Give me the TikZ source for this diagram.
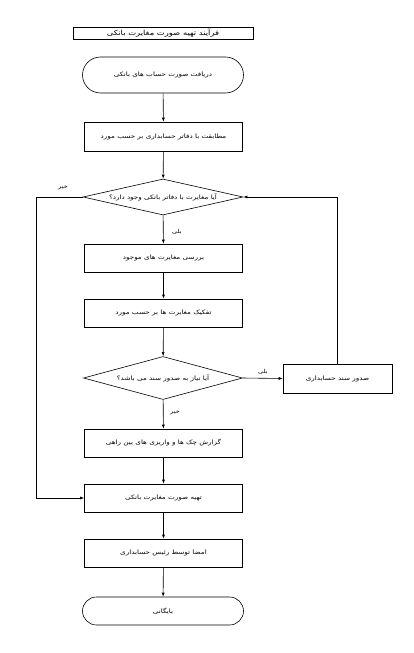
\documentclass[tikz,border=0pt]{standalone}
\usepackage{fontspec}
\newfontfamily\fafont[Script=Arabic,FakeStretch=1.2]{DejaVu Sans}
\TeXXeTstate=1
\usetikzlibrary{arrows.meta,shapes.geometric}
\newcommand{\fa}[1]{\fafont\beginR #1\endR}

\begin{document}
\begin{tikzpicture}[x=1pt,y=-1pt,>={Latex[length=4pt,width=3pt]},line width=0.6pt,
 font=\fontsize{6}{7}\selectfont,
 proc/.style={draw,minimum width=158pt,minimum height=28pt,inner sep=0pt},
 term/.style={draw,rounded corners=14pt,minimum width=161pt,minimum height=28pt,inner sep=0pt},
 dec/.style={diamond,draw,aspect=4.4,minimum width=160pt,minimum height=36pt,inner sep=0pt},
 lbl/.style={font=\fontsize{5.5}{6}\selectfont}]
\useasboundingbox (0,0) rectangle (414,653);
\node[draw,minimum width=180pt,minimum height=12pt,inner sep=0pt,font=\fontsize{7}{8}\selectfont] (title) at (163,33) {\fa{فرآیند تهیه صورت مغایرت بانکی}};
\node[term,rounded corners=18pt,minimum height=36pt] (st) at (163,75) {\fa{دریافت صورت حساب های بانکی}};
\node[proc,minimum height=29pt] (p1) at (163.5,136.5) {\fa{مطابقت با دفاتر حسابداری بر حسب مورد}};
\node[dec] (d1) at (163,197) {\fa{آیا مغایرت با دفاتر بانکی وجود دارد؟}};
\node[proc] (p2) at (163.5,258) {\fa{بررسی مغایرت های موجود}};
\node[proc] (p3) at (163.5,313) {\fa{تفکیک مغایرت ها بر حسب مورد}};
\node[dec,minimum width=159pt,minimum height=43pt,aspect=3.7] (d2) at (163,378) {\fa{آیا نیاز به صدور سند می باشد؟}};
\node[proc,minimum width=109pt,minimum height=29pt] (s1) at (337.5,378.5) {\fa{صدور سند حسابداری}};
\node[proc] (p4) at (163.5,443) {\fa{گزارش چک ها و واریزی های بین راهی}};
\node[proc] (p5) at (163.5,498) {\fa{تهیه صورت مغایرت بانکی}};
\node[proc] (p6) at (163.5,553) {\fa{امضا توسط رئیس حسابداری}};
\node[term] (en) at (163,611) {\fa{بایگانی}};
\draw[->] (st)--(p1);
\draw[->] (p1)--(d1);
\draw[->] (d1)--(p2);
\draw[->] (p2)--(p3);
\draw[->] (p3)--(d2);
\draw[->] (d2)--(p4);
\draw[->] (d2.east)--(s1.west);
\draw[->] (s1.north)|-(d1.east);
\draw[->] (d1.west)--++(-46,0)|-(p5.west);
\draw[->] (p4)--(p5);
\draw[->] (p5)--(p6);
\draw[->] (p6)--(en);
\node[lbl] (no1) at (63,188) {\fa{خیر}};
\node[lbl] (yes1) at (177,232) {\fa{بلی}};
\node[lbl] (yes2) at (263,372) {\fa{بلی}};
\node[lbl] (no2) at (175,413) {\fa{خیر}};
\end{tikzpicture}
\end{document}
